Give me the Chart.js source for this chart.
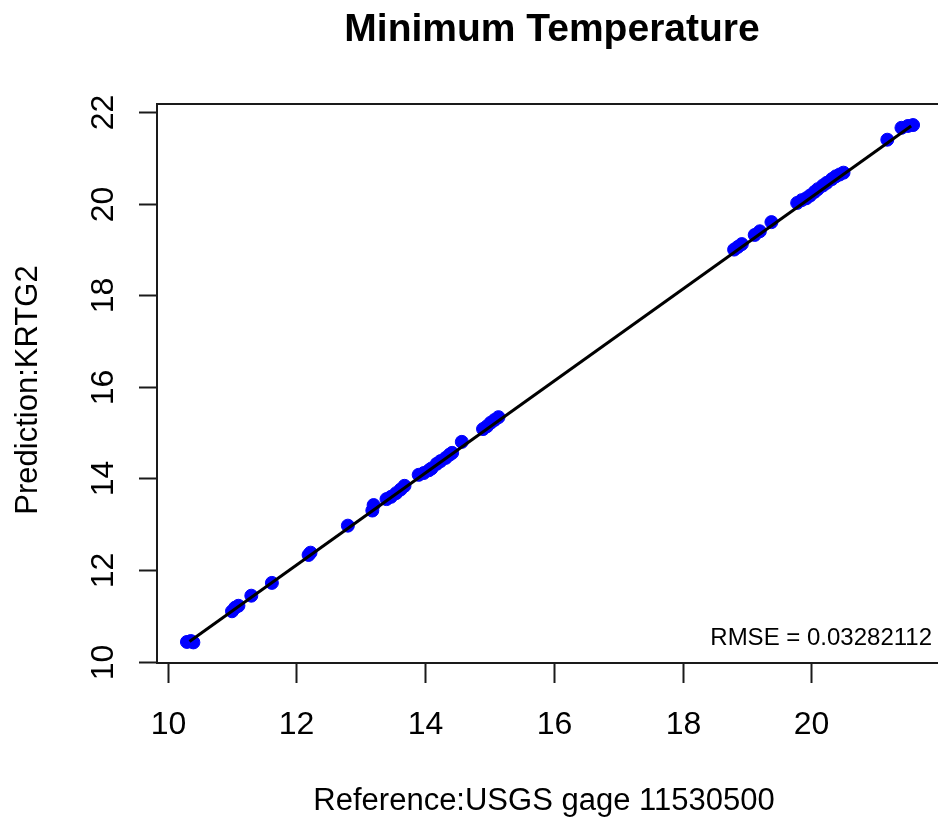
<!DOCTYPE html>
<html>
<head>
<meta charset="utf-8">
<script src="https://cdn.jsdelivr.net/npm/chart.js@4.4.0/dist/chart.umd.min.js"></script>
<style>
  html, body { margin: 0; padding: 0; background: #fff; overflow: hidden; }
  #wrap { width: 938px; height: 821px; position: relative; }
</style>
</head>
<body>
<div id="wrap"><canvas id="chart1"></canvas></div>
<script>
// observed (reference gage) vs predicted minimum temperature
const refX = [10.30, 10.36, 10.40, 11.00, 11.05, 11.10, 11.30, 11.62, 12.19, 12.22,
              12.80, 13.18, 13.20, 13.40, 13.47, 13.55, 13.62, 13.68, 13.90, 13.98,
              14.06, 14.10, 14.18, 14.24, 14.32, 14.38, 14.42, 14.57, 14.90, 14.96,
              15.02, 15.08, 15.14, 18.80, 18.86, 18.92, 19.12, 19.20, 19.38, 19.78,
              19.85, 19.92, 19.98, 20.05, 20.10, 20.18, 20.24, 20.32, 20.38, 20.44,
              20.50, 21.18, 21.40, 21.50, 21.58];
const predY = [10.43, 10.45, 10.42, 11.10, 11.18, 11.22, 11.44, 11.72, 12.33, 12.38,
               12.97, 13.30, 13.42, 13.55, 13.60, 13.68, 13.76, 13.84, 14.08, 14.12,
               14.18, 14.22, 14.32, 14.38, 14.45, 14.52, 14.56, 14.80, 15.08, 15.14,
               15.22, 15.28, 15.34, 19.00, 19.06, 19.12, 19.32, 19.40, 19.60, 20.02,
               20.08, 20.12, 20.18, 20.26, 20.32, 20.40, 20.46, 20.54, 20.60, 20.64,
               20.68, 21.40, 21.66, 21.70, 21.72];

// fitted line ends
const fitX = [10.34, 21.55];
const fitY = [10.44, 21.70];

const xTicks = [10, 12, 14, 16, 18, 20];
const yTicks = [10, 12, 14, 16, 18, 20, 22];

const title = 'Minimum Temperature';
const xTitle = 'Reference:USGS gage 11530500';
const yTitle = 'Prediction:KRTG2';
const rmseText = 'RMSE = 0.03282112';

const FONT = '"Liberation Sans", Arial, sans-serif';

const rAxes = {
    id: 'rAxes',
    afterDraw(chart) {
        const { ctx, chartArea } = chart;
        const xs = chart.scales.x, ys = chart.scales.y;
        const left = chartArea.left, top = chartArea.top, bottom = chartArea.bottom;
        const W = chart.width;

        ctx.save();
        ctx.strokeStyle = '#1a1a1a';
        ctx.lineWidth = 2;

        // box (right edge falls outside the picture)
        ctx.beginPath();
        ctx.moveTo(W + 5, top);
        ctx.lineTo(left, top);
        ctx.lineTo(left, bottom);
        ctx.lineTo(W + 5, bottom);
        ctx.stroke();

        // x ticks
        ctx.fillStyle = '#000';
        ctx.font = '32px ' + FONT;
        ctx.textAlign = 'center';
        ctx.textBaseline = 'alphabetic';
        xTicks.forEach(v => {
            const px = Math.round(xs.getPixelForValue(v)) + 0.5;
            ctx.beginPath();
            ctx.moveTo(px, bottom);
            ctx.lineTo(px, bottom + 20);
            ctx.stroke();
            ctx.fillText(String(v), px, 734);
        });

        // y ticks
        yTicks.forEach(v => {
            const py = Math.round(ys.getPixelForValue(v)) + 0.5;
            ctx.beginPath();
            ctx.moveTo(left, py);
            ctx.lineTo(left - 18, py);
            ctx.stroke();
            ctx.save();
            ctx.translate(113, py);
            ctx.rotate(-Math.PI / 2);
            ctx.fillText(String(v), 0, 0);
            ctx.restore();
        });

        // axis titles
        ctx.font = '31px ' + FONT;
        ctx.fillText(xTitle, 544, 810);
        ctx.save();
        ctx.translate(37, 390);
        ctx.rotate(-Math.PI / 2);
        ctx.fillText(yTitle, 0, 0);
        ctx.restore();

        // main title
        ctx.font = 'bold 39px ' + FONT;
        ctx.fillText(title, 552, 41);

        // rmse note
        ctx.font = '24px ' + FONT;
        ctx.textAlign = 'right';
        ctx.fillText(rmseText, 932, 645);
        ctx.restore();
    }
};

const ctx = document.getElementById('chart1').getContext('2d');
new Chart(ctx, {
    type: 'scatter',
    data: {
        datasets: [
            {
                label: 'fit',
                type: 'line',
                data: fitX.map((x, i) => ({ x: x, y: fitY[i] })),
                borderColor: '#000',
                borderWidth: 3,
                pointRadius: 0,
                fill: false,
                order: 0
            },
            {
                label: 'points',
                data: refX.map((x, i) => ({ x: x, y: predY[i] })),
                backgroundColor: '#0000ff',
                borderColor: '#0000ff',
                borderWidth: 1,
                pointRadius: 6.5,
                order: 1
            }
        ]
    },
    options: {
        responsive: true,
        maintainAspectRatio: false,
        animation: false,
        layout: { padding: { left: 157, top: 104, right: 0, bottom: 158 } },
        scales: {
            x: { type: 'linear', min: 9.835, max: 21.851, display: false },
            y: { type: 'linear', min: 9.97, max: 22.18, display: false }
        },
        plugins: {
            legend: { display: false },
            tooltip: { enabled: false }
        }
    },
    plugins: [rAxes]
});
</script>
</body>
</html>
